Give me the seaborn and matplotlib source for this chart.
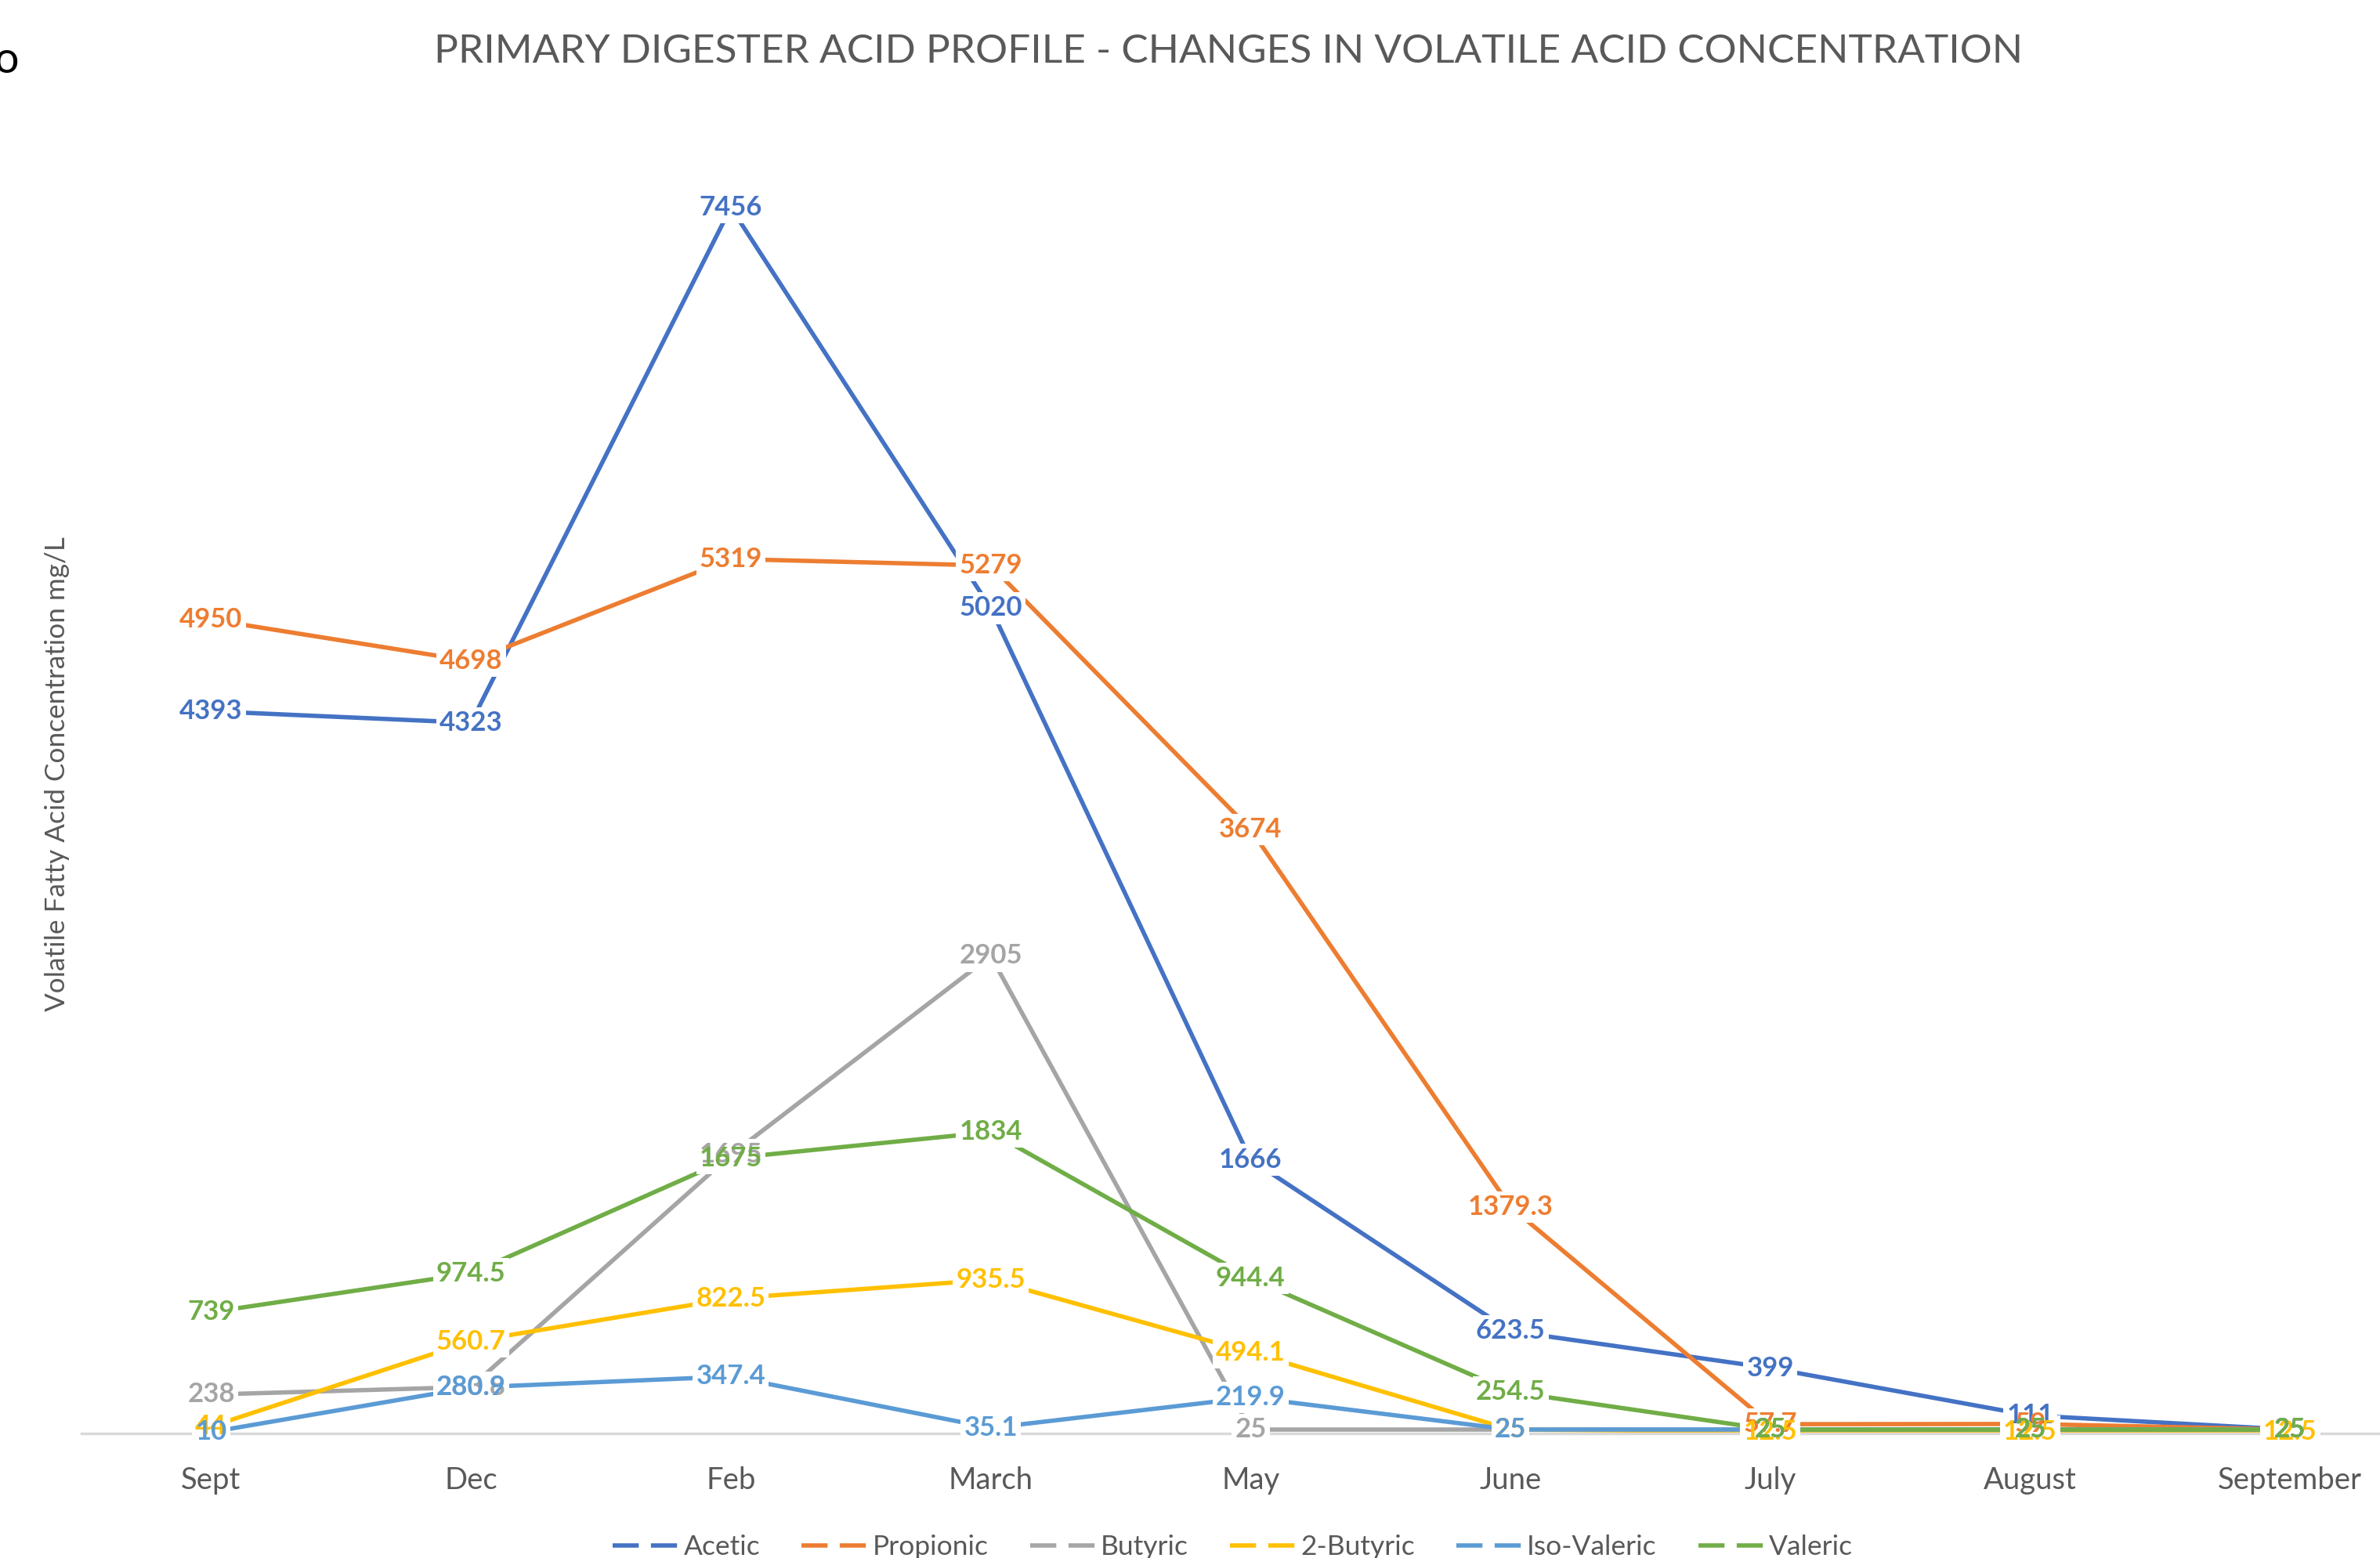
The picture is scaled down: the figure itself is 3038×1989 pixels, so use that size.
import matplotlib
matplotlib.use("Agg")
import matplotlib.pyplot as plt
from matplotlib.lines import Line2D
import seaborn as sns
import pandas as pd

months = ["Sept", "Dec", "Feb", "March", "May", "June", "July", "August", "September"]
series_names = ["Acetic", "Propionic", "Butyric", "2-Butyric", "Iso-Valeric", "Valeric"]
acetic = [4393, 4323, 7456, 5020, 1666, 623.5, 399, 111, 25]
propionic = [4950, 4698, 5319, 5279, 3674, 1379.3, 57.7, 59, 25]
butyric = [238, 283.8, 1695, 2905, 25, 25, 25, 25, 25]
butyric2 = [44, 560.7, 822.5, 935.5, 494.1, 25, 12.5, 12.5, 12.5]
isovaleric = [10, 280.9, 347.4, 35.1, 219.9, 25, 25, 25, 25]
valeric = [739, 974.5, 1675, 1834, 944.4, 254.5, 25, 25, 25]
colors = ["#4472C4", "#ED7D31", "#A5A5A5", "#FFC000", "#5B9BD5", "#70AD47"]

title = "PRIMARY DIGESTER ACID PROFILE - CHANGES IN VOLATILE ACID CONCENTRATION"
ylabel = "Volatile Fatty Acid Concentration mg/L"

all_vals = [acetic, propionic, butyric, butyric2, isovaleric, valeric]
rows = []
for name, vals in zip(series_names, all_vals):
    for i, (m, v) in enumerate(zip(months, vals)):
        rows.append({"series": name, "month": m, "pos": i, "value": v})
df = pd.DataFrame(rows)

sns.set_theme(style="white")
plt.rcParams["font.family"] = ["Lato", "DejaVu Sans"]

fig = plt.figure(figsize=(30.38, 19.89), dpi=100)
ax = fig.add_axes([0.0341, 0.0798, 0.9827, 0.8444])

sns.lineplot(data=df, x="pos", y="value", hue="series", hue_order=series_names,
             palette=colors, sort=False, linewidth=4.0, ax=ax, legend=False,
             zorder=2)
for ln in ax.lines:
    ln.set_clip_on(False)
    ln.set_solid_capstyle("butt")

ax.set_xlim(-0.5, len(months) - 0.5)
ax.set_ylim(0, 8000)
ax.set_xticks(range(len(months)))
ax.set_xticklabels(months, fontsize=27.5, color="#595959")
ax.set_yticks([])
ax.tick_params(axis="x", length=0, pad=30)
ax.set_xlabel("")
ax.set_ylabel("")
for s in ["top", "left", "right"]:
    ax.spines[s].set_visible(False)
ax.spines["bottom"].set_color("#D9D9D9")
ax.spines["bottom"].set_linewidth(2.5)


def fmt(v):
    return str(int(v)) if float(v).is_integer() else f"{v:.1f}"


# white knock-out boxes behind labels (gaps in lines), then the labels on top
for name, vals, c in zip(series_names, all_vals, colors):
    for i, v in enumerate(vals):
        ax.text(i, v, fmt(v), ha="center", va="center", fontsize=25,
                fontweight="bold", color="white", alpha=0.0, zorder=3,
                clip_on=False,
                bbox=dict(boxstyle="square,pad=0.12", fc="white", ec="none"))
for name, vals, c in zip(series_names, all_vals, colors):
    for i, v in enumerate(vals):
        ax.text(i, v, fmt(v), ha="center", va="center", fontsize=25,
                fontweight="bold", color=c, zorder=4, clip_on=False)

fig.text(0.516, 0.967, title, ha="center", va="center", fontsize=37,
         color="#595959")
fig.text(0.024, 0.503, ylabel, ha="center", va="center", rotation=90,
         fontsize=25.3, color="#595959")
fig.text(0.0026, 0.961, "o", ha="center", va="center", fontsize=40,
         color="black")

handles = [Line2D([0], [0], color=c, lw=4.0, linestyle=(0, (6, 2.8)))
           for c in colors]
fig.legend(handles, series_names, loc="center", bbox_to_anchor=(0.518, 0.007),
           ncol=6, frameon=False, fontsize=25.5, handlelength=2.4,
           handletextpad=0.15, columnspacing=1.5, labelcolor="#595959")

fig.savefig("out.png", dpi=100)
